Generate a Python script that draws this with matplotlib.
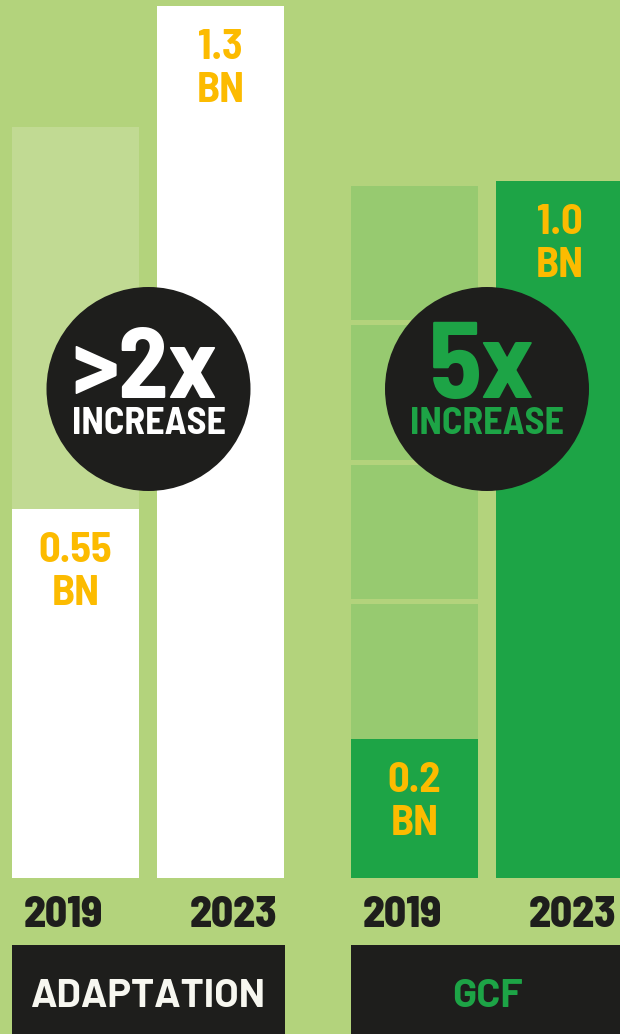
import matplotlib
matplotlib.use("Agg")
import matplotlib.pyplot as plt
from matplotlib.patches import Circle, Rectangle

# data
years = ["2019", "2023"]
adapt_vals = [0.55, 1.3]
adapt_labels = ["0.55", "1.3"]
adapt_ghost = [0.57]            # faint block above the 2019 bar
gcf_vals = [0.2, 1.0]
gcf_labels = ["0.2", "1.0"]
gcf_ghost = [0.2, 0.2, 0.2, 0.2]  # four faint 0.2 blocks -> 5x
groups = ["ADAPTATION", "GCF"]
badges = [">2x", "5x"]

# colours
BG = "#b3d37c"
GHOST_L = "#c1da93"
GHOST_R = "#97ca70"
GREEN = "#1da446"
YELLOW = "#fcbb00"
BLACK = "#1e1e1c"
OFFWHITE = "#f7f7f0"

FONT = "Barlow Semi Condensed"
plt.rcParams["font.family"] = [FONT, "DejaVu Sans"]

W, H = 620, 1034
fig = plt.figure(figsize=(W / 100, H / 100), dpi=100, facecolor=BG)

base = 878   # bar baseline, px from top
bw = 127 / 145

def bar_axes(x0, x1, centre0, ymax):
    ax = fig.add_axes([x0 / W, (H - base) / H, (x1 - x0) / W, base / H])
    ax.set_xlim((x0 - centre0) / 145, (x1 - centre0) / 145)
    ax.set_ylim(0, ymax)
    ax.axis("off")
    return ax

# left group: 1.3 bar tops out 6 px from the top
axL = bar_axes(0, 310, 75.5, base / ((base - 6) / 1.3))
# right group: 1.0 bar tops out at 181 px
axR = bar_axes(310, 620, 414.5, base / ((base - 181) / 1.0))

axL.bar([0, 1], adapt_vals, width=bw, color="white", linewidth=0)
axL.bar([0], adapt_ghost, bottom=adapt_vals[0], width=bw, color=GHOST_L, linewidth=0)

axR.bar([0, 1], gcf_vals, width=bw, color=GREEN, linewidth=0)
gap = 5 * axR.get_ylim()[1] / base
b = gcf_vals[0]
for seg in gcf_ghost:
    axR.bar([0], [seg - gap], bottom=b, width=bw, color=GHOST_R, linewidth=0)
    b += seg

def value_labels(ax, vals, labels):
    for i, (v, lab) in enumerate(zip(vals, labels)):
        ax.annotate(lab, (i, v), xytext=(0, -53), textcoords="offset pixels",
                    ha="center", va="baseline", color=YELLOW,
                    fontsize=30.5, fontweight="bold")
        ax.annotate("BN", (i, v), xytext=(0, -96), textcoords="offset pixels",
                    ha="center", va="baseline", color=YELLOW,
                    fontsize=30.5, fontweight="bold")

value_labels(axL, adapt_vals, adapt_labels)
value_labels(axR, gcf_vals, gcf_labels)

for ax in (axL, axR):
    for i, (yr, dx) in enumerate(zip(years, (-12, 13))):
        ax.annotate(yr, (i, 0), xytext=(dx, -49), textcoords="offset pixels",
                    ha="center", va="baseline", color=BLACK,
                    fontsize=31, fontweight="heavy", annotation_clip=False)

# overlay in pixel units for badges and group boxes
ov = fig.add_axes([0, 0, 1, 1])
ov.set_xlim(0, W)
ov.set_ylim(H, 0)
ov.axis("off")
ov.patch.set_alpha(0)

badge_x = [148.5, 487]
badge_col = ["white", GREEN]
badge_size = [72, 78]
badge_dx = [-4, -5]
for cx, txt, col, fs, dx in zip(badge_x, badges, badge_col, badge_size, badge_dx):
    ov.add_patch(Circle((cx, 389), 102, color=BLACK, linewidth=0))
    ov.text(cx + dx, 398, txt, ha="center", va="baseline", color=col,
            fontsize=fs, fontweight="bold")
    ov.text(cx, 434, "INCREASE", ha="center", va="baseline", color=col,
            fontsize=27.5, fontweight="bold")

box_x = [(12, 285), (351, 640)]
box_txt_col = [OFFWHITE, GREEN]
for (x0, x1), name, col, cx in zip(box_x, groups, box_txt_col, badge_x):
    ov.add_patch(Rectangle((x0, 945), x1 - x0, 100, color=BLACK, linewidth=0))
    ov.text(cx, 1007, name, ha="center", va="baseline", color=col,
            fontsize=28.5, fontweight="bold", family=["Barlow", "DejaVu Sans"])

fig.savefig("out.png", dpi=100, facecolor=BG)
